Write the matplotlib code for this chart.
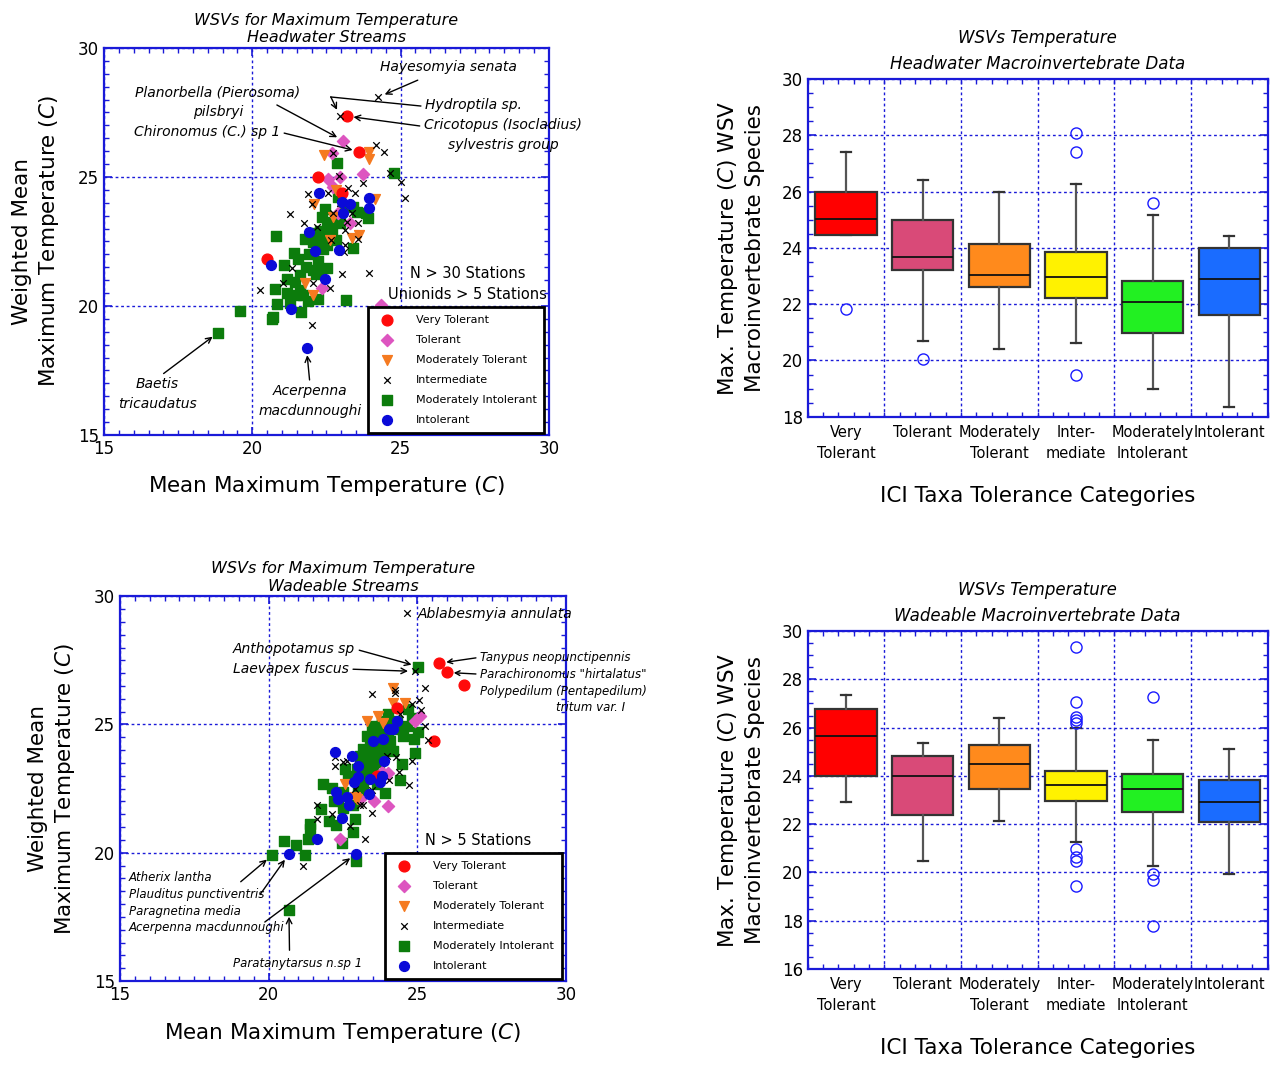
import numpy as np
import matplotlib
matplotlib.use("Agg")
import matplotlib.pyplot as plt
from matplotlib.ticker import MultipleLocator, FixedLocator

plt.rcParams["font.family"] = ["DejaVu Sans"]

# ---- Headwater streams: mean max temperature vs weighted mean (per taxon) ----
hw_vt_x = [23.18, 23.61, 22.22, 23.01, 20.48]
hw_vt_y = [27.36, 25.98, 25.01, 24.39, 21.81]
hw_tol_x = [23.07, 22.70, 22.54, 22.96, 23.72, 22.90, 23.29, 22.36, 24.34, 22.73]
hw_tol_y = [26.41, 25.94, 24.91, 25.01, 25.10, 23.59, 23.20, 20.68, 20.04, 24.62]
hw_mt_x = [22.42, 23.94, 23.92, 22.84, 22.09, 24.13, 23.35, 23.61, 22.62, 21.78, 22.06, 22.73]
hw_mt_y = [25.85, 25.98, 25.70, 24.50, 23.94, 24.13, 22.62, 22.75, 22.56, 20.90, 20.43, 23.46]
hw_int_x = [24.25, 22.96, 24.17, 24.45, 22.73, 24.64, 25.01, 25.15, 23.74, 22.93,
            23.24, 23.46, 21.89, 22.56, 22.00, 21.27, 21.74, 22.17, 23.18, 23.57,
            23.12, 23.57, 23.12, 23.10, 22.67, 21.33, 23.04, 23.94, 22.06, 22.62,
            21.02, 20.26, 22.03, 22.73, 22.96, 23.35]
hw_int_y = [28.09, 27.36, 26.23, 25.96, 25.94, 25.14, 24.82, 24.17, 24.75, 25.04,
            24.56, 24.37, 24.33, 24.37, 23.95, 23.55, 23.23, 23.07, 23.26, 23.23,
            22.95, 22.59, 22.36, 22.11, 22.56, 21.46, 21.23, 21.27, 20.88, 20.68,
            20.90, 20.62, 19.28, 23.59, 23.98, 23.59]
hw_mi_x = [18.85, 24.79, 22.87, 22.89, 22.45, 22.34, 23.52, 23.85, 23.91, 22.73,
           22.96, 22.51, 22.17, 22.62, 21.78, 22.06, 22.34, 22.84, 22.51, 23.40,
           20.79, 21.42, 21.53, 22.20, 21.80, 22.06, 22.53, 21.08, 21.61, 21.16,
           21.44, 22.15, 20.76, 21.16, 21.49, 21.72, 21.87, 22.20, 23.17, 20.82,
           21.27, 21.64, 20.71, 20.67, 19.58, 23.07, 23.40, 22.30, 22.70, 22.40,
           21.90, 22.20, 21.60]
hw_mi_y = [18.97, 25.14, 25.55, 24.24, 23.75, 23.46, 23.66, 23.59, 23.42, 23.26,
           23.20, 23.01, 22.82, 22.88, 22.59, 22.49, 22.56, 22.56, 22.36, 22.24,
           22.72, 22.07, 21.82, 21.75, 21.52, 21.40, 21.49, 21.60, 21.21, 21.03,
           20.94, 21.23, 20.67, 20.49, 20.43, 20.43, 20.19, 20.26, 20.23, 20.06,
           20.10, 19.77, 19.59, 19.48, 19.82, 23.85, 23.85, 22.90, 23.00, 22.20,
           22.00, 21.30, 20.60]
hw_intol_x = [21.83, 22.26, 23.94, 23.94, 23.03, 23.31, 23.07, 21.91, 22.11, 22.93, 20.63, 22.45, 21.31]
hw_intol_y = [18.36, 24.39, 24.19, 23.79, 24.01, 23.97, 23.62, 22.88, 22.14, 22.17, 21.58, 21.06, 19.88]

# ---- Wadeable streams ----
wd_vt_x = [25.74, 25.99, 26.58, 25.56, 24.33, 23.63]
wd_vt_y = [27.39, 27.03, 26.53, 24.34, 25.65, 23.01]
wd_tol_x = [25.09, 24.92, 24.02, 24.02, 23.55, 23.07, 22.40, 23.80]
wd_tol_y = [25.33, 25.14, 23.10, 21.82, 22.00, 22.10, 20.55, 23.16]
wd_mt_x = [24.19, 24.19, 24.59, 23.30, 23.69, 23.86, 22.57, 22.90, 22.96]
wd_mt_y = [26.43, 25.85, 25.85, 25.14, 25.33, 25.07, 22.68, 22.17, 22.10]
wd_int_x = [24.64, 24.92, 25.26, 25.07, 25.12, 25.26, 25.37, 24.81, 24.25, 24.25,
            23.49, 24.42, 24.81, 24.72, 24.38, 24.06, 23.49, 23.25, 21.17, 22.23,
            22.23, 22.51, 22.62, 21.64, 21.62, 22.12, 22.74, 22.90, 23.18, 23.97,
            24.29, 23.49, 23.07]
wd_int_y = [29.35, 27.07, 26.41, 25.97, 25.56, 24.94, 24.40, 25.78, 26.36, 26.23,
            26.17, 25.39, 23.59, 22.66, 23.14, 22.84, 21.54, 20.55, 19.48, 23.72,
            23.39, 23.52, 23.59, 21.85, 21.33, 21.52, 21.05, 22.49, 21.85, 23.78,
            23.72, 22.43, 21.85]
wd_mi_x = [25.03, 20.68, 20.12, 20.53, 20.91, 21.22, 21.31, 21.39, 21.39, 21.75,
           22.04, 22.25, 22.48, 22.90, 22.82, 22.94, 21.84, 22.12, 22.20, 22.51,
           22.51, 22.85, 22.68, 22.96, 23.18, 23.41, 23.18, 23.52, 23.30, 23.63,
           23.46, 23.97, 24.02, 24.31, 24.53, 24.64, 24.81, 25.03, 24.89, 24.92,
           24.47, 24.42, 23.91, 23.63, 23.13, 23.72, 24.19, 24.08, 23.86, 23.07,
           23.41, 23.80, 24.31, 24.70, 23.02, 22.57, 22.34, 23.18, 23.30, 23.52,
           23.63, 23.30, 23.50, 23.70, 23.40, 23.60, 23.90, 23.20, 23.50, 24.00,
           23.80]
wd_mi_y = [27.26, 17.78, 19.91, 20.46, 20.30, 19.91, 20.52, 21.14, 20.94, 21.72,
           21.24, 21.10, 20.39, 21.33, 20.79, 19.68, 22.68, 22.52, 22.00, 22.36,
           21.75, 21.85, 23.01, 23.26, 23.52, 23.78, 24.04, 24.17, 24.55, 24.68,
           24.94, 25.07, 25.39, 24.81, 24.55, 24.94, 25.26, 24.71, 24.43, 23.87,
           23.46, 22.84, 22.32, 22.68, 22.75, 23.52, 23.97, 24.36, 24.17, 23.78,
           24.36, 25.14, 25.14, 25.59, 22.36, 23.26, 22.10, 22.49, 23.01, 23.20,
           23.65, 23.90, 24.00, 24.30, 23.40, 23.80, 24.00, 23.20, 22.90, 24.60,
           25.00]
wd_intol_x = [20.68, 22.93, 21.61, 22.23, 22.79, 23.01, 22.99, 22.87, 22.25, 22.34, 22.65, 22.70,
              22.48, 23.41, 23.39, 23.80, 23.74, 23.88, 23.51, 23.83, 24.06, 24.19, 24.31]
wd_intol_y = [19.95, 19.95, 20.55, 23.94, 23.78, 23.39, 22.97, 22.75, 22.36, 22.10, 22.17, 21.88,
              21.35, 22.88, 22.30, 23.01, 22.77, 23.59, 24.36, 24.43, 24.84, 24.81, 25.14]

# ---- Box plot summaries (WSV max temperature by ICI tolerance category) ----
box_labels = ["Very\nTolerant", "Tolerant", "Moderately\nTolerant", "Inter-\nmediate",
              "Moderately\nIntolerant", "Intolerant"]
box_colors = ["#ff0000", "#d94a78", "#ff8a1c", "#fff200", "#22f022", "#1a6cff"]

hw_q1 = [24.44, 23.21, 22.62, 22.22, 20.99, 21.60]
hw_med = [25.03, 23.69, 23.05, 22.97, 22.07, 22.90]
hw_q3 = [26.00, 24.98, 24.15, 23.85, 22.82, 24.01]
hw_lo = [24.44, 20.69, 20.40, 20.63, 18.99, 18.36]
hw_hi = [27.40, 26.40, 25.99, 26.25, 25.16, 24.41]
hw_fliers = [[21.83], [20.06], [], [28.09, 27.40, 19.49], [25.59], []]

wd_q1 = [23.99, 22.40, 23.45, 22.95, 22.51, 22.08]
wd_med = [25.64, 23.99, 24.51, 23.64, 23.45, 22.91]
wd_q3 = [26.79, 24.83, 25.27, 24.19, 24.07, 23.85]
wd_lo = [22.90, 20.48, 22.12, 21.28, 20.28, 19.94]
wd_hi = [27.37, 25.35, 26.40, 25.97, 25.49, 25.12]
wd_fliers = [[], [], [], [29.35, 27.08, 26.43, 26.32, 26.18, 20.97, 20.63, 20.48, 19.45],
             [27.28, 19.92, 19.67, 17.77], []]

BLUE = "#1a1ad8"
cats = ["Very Tolerant", "Tolerant", "Moderately Tolerant", "Intermediate",
        "Moderately Intolerant", "Intolerant"]


def frame(ax):
    for s in ax.spines.values():
        s.set_color(BLUE)
        s.set_linewidth(1.6)
    ax.tick_params(which="both", direction="in", top=True, right=True, color=BLUE,
                   labelsize=12)
    ax.tick_params(which="major", length=6, width=1.2)
    ax.tick_params(which="minor", length=3.5, width=1.0)


def scatter_panel(ax, data, title):
    # green first so the other groups sit on top
    styles = {
        "Very Tolerant": dict(marker="o", color="#ff0a0a", s=60),
        "Tolerant": dict(marker="D", color="#dd55c0", s=38),
        "Moderately Tolerant": dict(marker="v", color="#f57a20", s=50),
        "Intermediate": dict(marker="x", color="black", s=22, linewidths=0.9),
        "Moderately Intolerant": dict(marker="s", color="#0c7c0c", s=48),
        "Intolerant": dict(marker="o", color="#0a0ad8", s=50),
    }
    handles = {}
    for c in ["Moderately Intolerant", "Tolerant", "Moderately Tolerant", "Very Tolerant",
              "Intermediate", "Intolerant"]:
        x, y = data[c]
        handles[c] = ax.scatter(x, y, label=c, zorder=3, **styles[c])
    ax.set_xlim(15, 30)
    ax.set_ylim(15, 30)
    ax.xaxis.set_major_locator(MultipleLocator(5))
    ax.yaxis.set_major_locator(MultipleLocator(5))
    ax.xaxis.set_minor_locator(MultipleLocator(0.5))
    ax.yaxis.set_minor_locator(MultipleLocator(0.5))
    ax.grid(True, which="major", color=BLUE, linestyle=(0, (2, 2)), linewidth=1.0)
    ax.set_axisbelow(True)
    frame(ax)
    ax.set_title(title, fontsize=11.5, style="italic", pad=4, linespacing=1.2)
    ax.set_xlabel("Mean Maximum Temperature ($\\it{C}$)", fontsize=15.5, labelpad=12)
    ax.set_ylabel("Weighted Mean\nMaximum Temperature ($\\it{C}$)", fontsize=15.5,
                  labelpad=12, linespacing=1.3)
    leg = ax.legend([handles[c] for c in cats], cats, loc="lower right",
                    bbox_to_anchor=(0.99, 0.006), fontsize=8, frameon=True,
                    fancybox=False, edgecolor="black", framealpha=1,
                    labelspacing=0.9, handletextpad=1.6, borderpad=0.7,
                    borderaxespad=0, scatterpoints=1)
    leg.get_frame().set_linewidth(2)
    leg.set_zorder(5)


def box_panel(ax, q1, med, q3, lo, hi, fliers, title, ymin):
    stats = []
    for i in range(6):
        stats.append(dict(med=med[i], q1=q1[i], q3=q3[i], whislo=lo[i], whishi=hi[i],
                          fliers=fliers[i]))
    pos = np.arange(1, 7)
    bp = ax.bxp(stats, positions=pos, widths=0.8, patch_artist=True, capwidths=0.13,
                boxprops=dict(edgecolor="#333333", linewidth=1.6),
                whiskerprops=dict(color="#555555", linewidth=1.6),
                capprops=dict(color="#333333", linewidth=1.6),
                medianprops=dict(color="#111111", linewidth=1.3),
                flierprops=dict(marker="o", markerfacecolor="none",
                                markeredgecolor="#1a1aff", markersize=8,
                                markeredgewidth=1.0),
                manage_ticks=False, zorder=3)
    for patch, col in zip(bp["boxes"], box_colors):
        patch.set_facecolor(col)
    ax.set_xlim(0.5, 6.5)
    ax.set_ylim(ymin, 30)
    ax.yaxis.set_major_locator(MultipleLocator(2))
    ax.yaxis.set_minor_locator(MultipleLocator(0.5))
    ax.set_xticks(pos)
    ax.set_xticklabels(box_labels, linespacing=1.45)
    ax.xaxis.set_minor_locator(FixedLocator(np.arange(0.5, 6.51, 0.2)))
    ax.grid(True, axis="y", which="major", color=BLUE, linestyle=(0, (2, 2)), linewidth=1.0)
    for b in np.arange(1.5, 6, 1):
        ax.axvline(b, color=BLUE, linestyle=(0, (2, 2)), linewidth=1.0, zorder=1)
    ax.set_axisbelow(True)
    frame(ax)
    ax.tick_params(axis="x", which="major", length=0, pad=6, labelsize=10.5)
    ax.set_title(title, fontsize=12, style="italic", pad=7, linespacing=1.6)
    ax.set_xlabel("ICI Taxa Tolerance Categories", fontsize=15.5, labelpad=18)
    ax.set_ylabel("Max. Temperature ($\\it{C}$) WSV\nMacroinvertebrate Species",
                  fontsize=15.5, labelpad=12, linespacing=1.3)


fig = plt.figure(figsize=(12.78, 10.66), dpi=100)

# ---------------- top-left: headwater scatter ----------------
ax1 = fig.add_axes([0.0814, 0.592, 0.348, 0.363])
hw = {
    "Very Tolerant": (hw_vt_x, hw_vt_y), "Tolerant": (hw_tol_x, hw_tol_y),
    "Moderately Tolerant": (hw_mt_x, hw_mt_y), "Intermediate": (hw_int_x, hw_int_y),
    "Moderately Intolerant": (hw_mi_x, hw_mi_y), "Intolerant": (hw_intol_x, hw_intol_y),
}
scatter_panel(ax1, hw, "WSVs for Maximum Temperature\nHeadwater Streams")
arr = dict(arrowstyle="->", color="black", lw=1.0, shrinkA=1, shrinkB=5)
ann = dict(fontsize=10, style="italic", ha="center", va="center", linespacing=1.5,
           annotation_clip=False)
ax1.annotate("Hayesomyia senata", xy=(hw_int_x[0], hw_int_y[0]), xytext=(26.6, 29.26),
             arrowprops=dict(arr, shrinkA=6), **ann)
ax1.text(25.82, 27.79, "Hydroptila sp.", fontsize=10, style="italic", va="center")
ax1.plot([25.68, 22.65], [27.75, 28.10], color="black", lw=1.0)
ax1.annotate("", xy=(hw_int_x[1], hw_int_y[1]), xytext=(22.65, 28.10),
             arrowprops=dict(arr, shrinkA=0))
ax1.annotate("Cricotopus (Isocladius)\nsylvestris group", xy=(hw_vt_x[0], hw_vt_y[0]),
             xytext=(28.45, 26.63), arrowprops=dict(arr, relpos=(0, 0.75)), **ann)
ax1.text(18.84, 27.91, "Planorbella (Pierosoma)\npilsbryi", fontsize=10, style="italic",
         ha="center", va="center", linespacing=1.5)
ax1.annotate("", xy=(hw_tol_x[0], hw_tol_y[0]), xytext=(20.83, 27.79),
             arrowprops=dict(arr, shrinkA=0))
ax1.annotate("Chironomus (C.) sp 1", xy=(hw_vt_x[1], hw_vt_y[1]), xytext=(18.47, 26.74),
             arrowprops=dict(arr, relpos=(1, 0.5)), **ann)
ax1.annotate("Baetis\ntricaudatus", xy=(hw_mi_x[0], hw_mi_y[0]), xytext=(16.79, 16.59),
             arrowprops=dict(arr, relpos=(0.55, 1.05)), **ann)
ax1.annotate("Acerpenna\nmacdunnoughi", xy=(hw_intol_x[0], hw_intol_y[0]),
             xytext=(21.94, 16.32), arrowprops=dict(arr, relpos=(0.5, 1.05)), **ann)
ax1.text(27.27, 20.85, "N > 30 Stations\nUnionids > 5 Stations", fontsize=10.5,
         ha="center", va="center", linespacing=1.5)

# ---------------- bottom-left: wadeable scatter ----------------
ax2 = fig.add_axes([0.0939, 0.0797, 0.349, 0.361])
wd = {
    "Very Tolerant": (wd_vt_x, wd_vt_y), "Tolerant": (wd_tol_x, wd_tol_y),
    "Moderately Tolerant": (wd_mt_x, wd_mt_y), "Intermediate": (wd_int_x, wd_int_y),
    "Moderately Intolerant": (wd_mi_x, wd_mi_y), "Intolerant": (wd_intol_x, wd_intol_y),
}
scatter_panel(ax2, wd, "WSVs for Maximum Temperature\nWadeable Streams")
ann2 = dict(ann, ha="left")
small = dict(ann2, fontsize=8.5)
ax2.text(25.02, 29.30, "Ablabesmyia annulata", fontsize=10, style="italic", va="center")
ax2.annotate("Anthopotamus sp", xy=(wd_mi_x[0], wd_mi_y[0]), xytext=(18.80, 27.94),
             arrowprops=dict(arr, relpos=(1, 0.5)), **ann2)
ax2.annotate("Laevapex fuscus", xy=(wd_int_x[1], wd_int_y[1]), xytext=(18.80, 27.16),
             arrowprops=dict(arr, relpos=(1, 0.5)), **ann2)
ax2.annotate("Tanypus neopunctipennis", xy=(wd_vt_x[0], wd_vt_y[0]), xytext=(27.11, 27.62),
             arrowprops=dict(arr, relpos=(0, 0.5)), **small)
ax2.annotate('Parachironomus "hirtalatus"', xy=(wd_vt_x[1], wd_vt_y[1]),
             xytext=(27.11, 26.96), arrowprops=dict(arr, relpos=(0, 0.5)), **small)
ax2.annotate("Polypedilum (Pentapedilum)", xy=(27.11, 26.30), xytext=(27.11, 26.30), **small)
ax2.annotate("tritum var. I", xy=(31.99, 25.68), xytext=(31.99, 25.68),
             **dict(small, ha="right"))
ax2.annotate("Atherix lantha", xy=(15.30, 19.05), xytext=(15.30, 19.05), **small)
ax2.annotate("", xy=(wd_mi_x[2], wd_mi_y[2]), xytext=(19.06, 18.87),
             arrowprops=dict(arr, shrinkA=0))
ax2.annotate("Plauditus punctiventris", xy=(15.30, 18.39), xytext=(15.30, 18.39), **small)
ax2.annotate("", xy=(wd_intol_x[0], wd_intol_y[0]), xytext=(19.71, 18.37),
             arrowprops=dict(arr, shrinkA=0))
ax2.annotate("Paragnetina media", xy=(15.30, 17.73), xytext=(15.30, 17.73), **small)
ax2.annotate("Acerpenna macdunnoughi", xy=(15.30, 17.07), xytext=(15.30, 17.07), **small)
ax2.annotate("", xy=(wd_intol_x[1], wd_intol_y[1]), xytext=(19.87, 17.30),
             arrowprops=dict(arr, shrinkA=0))
ax2.annotate("Paratanytarsus n.sp 1", xy=(20.99, 15.70), xytext=(20.99, 15.70),
             **dict(ann, fontsize=8.5))
ax2.annotate("", xy=(wd_mi_x[1], wd_mi_y[1]), xytext=(20.70, 16.2),
             arrowprops=dict(arr, shrinkA=0))
ax2.text(27.04, 20.46, "N > 5 Stations", fontsize=10.5, ha="center", va="center")

# ---------------- right: box plots ----------------
ax3 = fig.add_axes([0.632, 0.609, 0.360, 0.317])
box_panel(ax3, hw_q1, hw_med, hw_q3, hw_lo, hw_hi, hw_fliers,
          "WSVs Temperature\nHeadwater Macroinvertebrate Data", 18)
ax4 = fig.add_axes([0.632, 0.091, 0.360, 0.317])
box_panel(ax4, wd_q1, wd_med, wd_q3, wd_lo, wd_hi, wd_fliers,
          "WSVs Temperature\nWadeable Macroinvertebrate Data", 16)

fig.savefig("out.png", dpi=100)
